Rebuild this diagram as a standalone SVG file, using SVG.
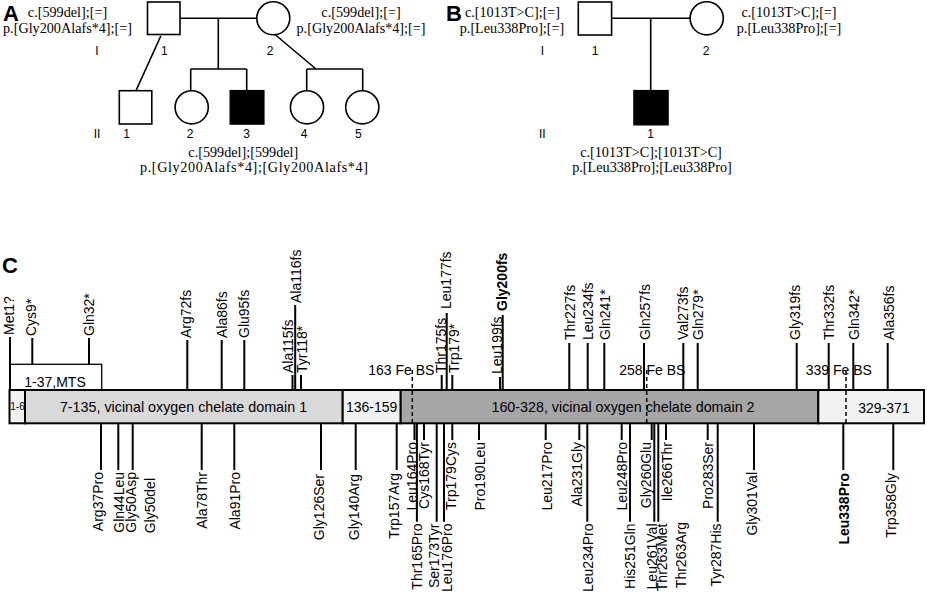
<svg xmlns="http://www.w3.org/2000/svg" width="927" height="594" viewBox="0 0 927 594">
<style>
.bg{fill:#fff}
.ser{font-family:"Liberation Serif","Times New Roman",serif;font-size:14.2px;fill:#000}
.num{font-family:"Liberation Sans",Arial,sans-serif;font-size:12px;fill:#000;text-anchor:middle}
.pan{font-family:"Liberation Sans",Arial,sans-serif;font-size:22px;font-weight:bold;fill:#000}
.lbl{font-family:"Liberation Sans",Arial,sans-serif;font-size:14px;fill:#000}
.b{font-weight:bold}
.ped{stroke:#000;stroke-width:1.6;fill:#fff}
.aff{stroke:#000;stroke-width:1.6;fill:#000}
.ln{stroke:#000;stroke-width:1.6;fill:none}
.tk{stroke:#000;stroke-width:2;fill:none}
.dash{stroke:#000;stroke-width:1.5;stroke-dasharray:4 3;fill:none}
.seg{stroke:#000;stroke-width:2}
.mid{text-anchor:middle}
.end{text-anchor:end}
</style>
<rect class="bg" x="0" y="0" width="927" height="594"/>

<!-- Panel A -->
<g id="panelA">
<text class="pan" x="3" y="20.5">A</text>
<text class="ser mid" x="67.5" y="16.5">c.[599del];[=]</text>
<text class="ser mid" x="67.5" y="32.8">p.[Gly200Alafs*4];[=]</text>
<text class="ser mid" x="361" y="16.5">c.[599del];[=]</text>
<text class="ser mid" x="361" y="32.8">p.[Gly200Alafs*4];[=]</text>
<text class="num" x="97" y="55">I</text>
<text class="num" x="97" y="138">II</text>
<text class="ser mid" x="243.3" y="157">c.[599del];[599del]</text>
<text class="ser mid" x="254" y="171.5" textLength="228">p.[Gly200Alafs*4];[Gly200Alafs*4]</text>
</g>
<g id="A-I-1"><rect class="ped" x="147.5" y="2" width="32.5" height="32.5"/><text class="num" x="164.3" y="55">1</text></g>
<g id="A-I-2"><circle class="ped" cx="273.3" cy="18.3" r="16.5"/><text class="num" x="270" y="55">2</text></g>
<g id="A-II-1"><rect class="ped" x="119.3" y="90.7" width="32.5" height="33.3"/><text class="num" x="126.7" y="138">1</text></g>
<g id="A-II-2"><circle class="ped" cx="191.7" cy="107.3" r="16.6"/><text class="num" x="190" y="138">2</text></g>
<g id="A-II-3"><rect class="aff" x="230.3" y="90.7" width="33.5" height="33.3"/><text class="num" x="246.7" y="138">3</text></g>
<g id="A-II-4"><circle class="ped" cx="307" cy="107.3" r="16.6"/><text class="num" x="304" y="138">4</text></g>
<g id="A-II-5"><circle class="ped" cx="362.3" cy="107.3" r="16.6"/><text class="num" x="358.3" y="138">5</text></g>

<!-- Panel B -->
<g id="panelB">
<text class="pan" x="446" y="20.5">B</text>
<text class="ser mid" x="512.5" y="16.5">c.[1013T&gt;C];[=]</text>
<text class="ser mid" x="512" y="32.8">p.[Leu338Pro];[=]</text>
<text class="ser mid" x="789" y="16.5">c.[1013T&gt;C];[=]</text>
<text class="ser mid" x="789" y="32.8">p.[Leu338Pro];[=]</text>
<text class="num" x="542.3" y="55">I</text>
<text class="num" x="542.3" y="138">II</text>
<text class="ser mid" x="651" y="157">c.[1013T&gt;C];[1013T&gt;C]</text>
<text class="ser mid" x="652" y="171.5">p.[Leu338Pro];[Leu338Pro]</text>
</g>
<g id="B-I-1"><rect class="ped" x="578.3" y="2" width="33.3" height="33"/><text class="num" x="595" y="55">1</text></g>
<g id="B-I-2"><circle class="ped" cx="706.7" cy="18.3" r="16.6"/><text class="num" x="706" y="55">2</text></g>
<g id="B-II-1"><rect class="aff" x="634" y="90.7" width="34" height="34"/><text class="num" x="650.7" y="138">1</text></g>

<!-- Pedigree connectors -->
<g id="connectors">
<path class="ln" d="M180 18.3H256.8M218.3 18.3V69M190.7 69H246.7M190.7 69V90.7M246.7 69V90.7"/>
<path class="ln" d="M160.8 36L136 90.7"/>
<path class="ln" d="M275 34.5L316 69M306.7 69H362.7M306.7 69V90.7M362.7 69V90.7"/>
<path class="ln" d="M611.6 18.3H690.1M650.7 18.3V90.7"/>
</g>

<!-- Panel C -->
<g id="panelC">
<text class="pan" x="2" y="273">C</text>
<g id="mts"><rect x="10" y="364.3" width="91.7" height="25.7" fill="#fff" stroke="#000" stroke-width="1.3"/><text class="lbl mid" x="55" y="386.5">1-37,MTS</text></g>
<g id="bar">
<rect class="seg" x="9.5" y="390" width="15.5" height="33.3" fill="#f2f2f2"/>
<rect class="seg" x="25" y="390" width="317.7" height="33.3" fill="#d9d9d9"/>
<rect class="seg" x="342.7" y="390" width="58" height="33.3" fill="#f2f2f2"/>
<rect class="seg" x="400.7" y="390" width="417.6" height="33.3" fill="#a6a6a6"/>
<rect class="seg" x="818.3" y="390" width="105.7" height="33.3" fill="#f2f2f2"/>
<text class="lbl mid" x="17.5" y="410" style="font-size:10px">1-6</text>
<text class="lbl mid" x="183.5" y="412" style="font-size:14.3px">7-135, vicinal oxygen chelate domain 1</text>
<text class="lbl mid" x="371.7" y="412">136-159</text>
<text class="lbl mid" x="623" y="412" style="font-size:14.3px">160-328, vicinal oxygen chelate domain 2</text>
<text class="lbl mid" x="884" y="413">329-371</text>
</g>
<g id="febs">
<text class="lbl" x="368.3" y="375">163 Fe BS</text>
<text class="lbl" x="619.3" y="375">258 Fe BS</text>
<text class="lbl" x="805.7" y="375">339 Fe BS</text>
<path class="dash" d="M412.3 370V423M646.7 370V423M846 370V423"/>
</g>
<g id="ticks-above">
<path class="tk" d="M10 337V390M32.3 338V364.3M89 338V364.3M187.3 340V390M221.7 340V390M244.3 340V390M292.5 375V390M295.2 305V390M301 375V390M441.7 375V390M446.7 313V390M452.3 375V390M500 377V390M502.7 315V390M569.3 343V390M587.7 343V390M604.3 343V390M644 343V390M683.3 343V390M697.7 343V390M796.7 343V390M828.7 343V390M853.3 343V390M887.7 343V390"/>
<text class="lbl" transform="translate(13.5,335) rotate(-90)">Met1?</text>
<text class="lbl" transform="translate(35.5,336) rotate(-90)">Cys9*</text>
<text class="lbl" transform="translate(94,336) rotate(-90)">Gln32*</text>
<text class="lbl" transform="translate(190.5,338) rotate(-90)">Arg72fs</text>
<text class="lbl" transform="translate(226.5,338) rotate(-90)">Ala86fs</text>
<text class="lbl" transform="translate(249.3,338) rotate(-90)">Glu95fs</text>
<text class="lbl" transform="translate(292.5,373) rotate(-90)">Ala115fs</text>
<text class="lbl" transform="translate(300.5,303) rotate(-90)">Ala116fs</text>
<text class="lbl" transform="translate(307,373) rotate(-90)">Tyr118*</text>
<text class="lbl" transform="translate(446,373) rotate(-90)">Thr175fs</text>
<text class="lbl" transform="translate(451,309) rotate(-90)">Leu177fs</text>
<text class="lbl" transform="translate(458.5,373) rotate(-90)">Trp179*</text>
<text class="lbl" transform="translate(501.5,374) rotate(-90)">Leu199fs</text>
<text class="lbl b" transform="translate(507,311) rotate(-90)">Gly200fs</text>
<text class="lbl" transform="translate(574.5,340) rotate(-90)">Thr227fs</text>
<text class="lbl" transform="translate(593,340) rotate(-90)">Leu234fs</text>
<text class="lbl" transform="translate(610,340) rotate(-90)">Gln241*</text>
<text class="lbl" transform="translate(649.5,340) rotate(-90)">Gln257fs</text>
<text class="lbl" transform="translate(688,340) rotate(-90)">Val273fs</text>
<text class="lbl" transform="translate(703,340) rotate(-90)">Gln279*</text>
<text class="lbl" transform="translate(799.5,340) rotate(-90)">Gly319fs</text>
<text class="lbl" transform="translate(834,340) rotate(-90)">Thr332fs</text>
<text class="lbl" transform="translate(859,340) rotate(-90)">Gln342*</text>
<text class="lbl" transform="translate(893.5,340) rotate(-90)">Ala356fs</text>
</g>
<g id="ticks-below">
<path class="tk" d="M101 423.3V470M118.3 423.3V470M132.7 423.3V470M201.7 423.3V470M234.3 423.3V470M321 423.3V470M355.7 423.3V470M396.7 423.3V470M414.5 423.3V440M416.9 423.3V521.7M424 423.3V440M436.7 423.3V521.7M444 423.3V521.7M452.3 423.3V440M479 423.3V440M545.7 423.3V440M579.3 423.3V440M587.3 423.3V521.7M621.7 423.3V440M630 423.3V521.7M651.7 423.3V440M654.3 423.3V521.7M658.3 423.3V521.7M666 423.3V440M707.7 423.3V440M717.7 423.3V521.7M754 423.3V470M843.3 423.3V470M893.3 423.3V470"/>
<text class="lbl end" transform="translate(103,472) rotate(-90)">Arg37Pro</text>
<text class="lbl end" transform="translate(124,472) rotate(-90)">Gln44Leu</text>
<text class="lbl end" transform="translate(135.5,472) rotate(-90)">Gly50Asp</text>
<text class="lbl end" transform="translate(155.3,478) rotate(-90)">Gly50del</text>
<text class="lbl end" transform="translate(207,472) rotate(-90)">Ala78Thr</text>
<text class="lbl end" transform="translate(240,472) rotate(-90)">Ala91Pro</text>
<text class="lbl end" transform="translate(324,474) rotate(-90)">Gly126Ser</text>
<text class="lbl end" transform="translate(358.5,474) rotate(-90)">Gly140Arg</text>
<text class="lbl end" transform="translate(398.5,473) rotate(-90)">Trp157Arg</text>
<text class="lbl end" transform="translate(416.5,442) rotate(-90)">Leu164Pro</text>
<text class="lbl end" transform="translate(421.5,523.5) rotate(-90)">Thr165Pro</text>
<text class="lbl end" transform="translate(429,442) rotate(-90)">Cys168Tyr</text>
<text class="lbl end" transform="translate(439,523.5) rotate(-90)">Ser173Tyr</text>
<text class="lbl end" transform="translate(451.5,523.5) rotate(-90)">Leu176Pro</text>
<text class="lbl end" transform="translate(455.5,442) rotate(-90)">Trp179Cys</text>
<text class="lbl end" transform="translate(485,442) rotate(-90)">Pro190Leu</text>
<text class="lbl end" transform="translate(551.5,442) rotate(-90)">Leu217Pro</text>
<text class="lbl end" transform="translate(582,442) rotate(-90)">Ala231Gly</text>
<text class="lbl end" transform="translate(593,523.5) rotate(-90)">Leu234Pro</text>
<text class="lbl end" transform="translate(627,442) rotate(-90)">Leu248Pro</text>
<text class="lbl end" transform="translate(635,523.5) rotate(-90)">His251Gln</text>
<text class="lbl end" transform="translate(651.2,442) rotate(-90)">Gly260Glu</text>
<text class="lbl end" transform="translate(656.5,523.5) rotate(-90)">Leu261Val</text>
<text class="lbl end" transform="translate(666.5,523.5) rotate(-90)">Thr263Met</text>
<text class="lbl end" transform="translate(671.5,442) rotate(-90)">Ile266Thr</text>
<text class="lbl end" transform="translate(686,522) rotate(-90)">Thr263Arg</text>
<text class="lbl end" transform="translate(713,442) rotate(-90)">Pro283Ser</text>
<text class="lbl end" transform="translate(720.5,523.5) rotate(-90)">Tyr287His</text>
<text class="lbl end" transform="translate(757,472) rotate(-90)">Gly301Val</text>
<text class="lbl end b" transform="translate(849,473) rotate(-90)">Leu338Pro</text>
<text class="lbl end" transform="translate(895.5,473) rotate(-90)">Trp358Gly</text>
</g>
</g>
</svg>
